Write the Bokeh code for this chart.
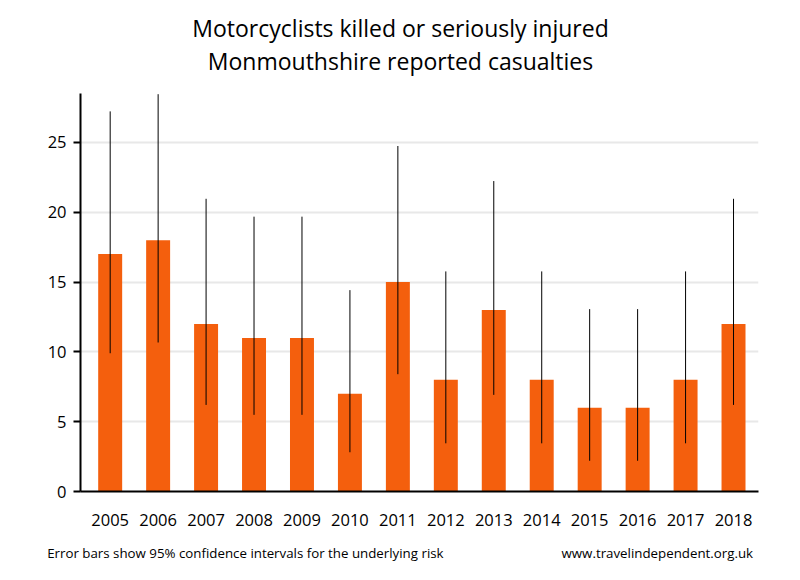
from bokeh.plotting import figure
from bokeh.models import ColumnDataSource, Range1d, FixedTicker, LinearAxis
from bokeh.embed import file_html
from bokeh.resources import INLINE

years = [2005, 2006, 2007, 2008, 2009, 2010, 2011, 2012, 2013, 2014, 2015, 2016, 2017, 2018]
casualties = [17, 18, 12, 11, 11, 7, 15, 8, 13, 8, 6, 6, 8, 12]
ci_lower = [9.90, 10.67, 6.20, 5.49, 5.49, 2.81, 8.40, 3.45, 6.92, 3.45, 2.20, 2.20, 3.45, 6.20]
ci_upper = [27.22, 28.45, 20.96, 19.68, 19.68, 14.42, 24.74, 15.76, 22.23, 15.76, 13.06, 13.06, 15.76, 20.96]
y_ticks = [0, 5, 10, 15, 20, 25]

title_1 = "Motorcyclists killed or seriously injured"
title_2 = "Monmouthshire reported casualties"
note_left = "Error bars show 95% confidence intervals for the underlying risk"
note_right = "www.travelindependent.org.uk"

FONT = "Open Sans"

src = ColumnDataSource(dict(x=years, top=casualties, lo=ci_lower, hi=ci_upper))

p = figure(width=784, height=564, output_backend="svg", toolbar_location=None,
           x_range=Range1d(2004.381, 2018.521), y_range=Range1d(0, 28.5),
           min_border_left=80, min_border_right=26, min_border_top=93, min_border_bottom=71)
p.outline_line_color = None
p.background_fill_color = "white"
p.title.visible = False

p.vbar(x="x", top="top", width=0.5, source=src, color="#F45F0D", line_color=None)
p.segment(x0="x", x1="x", y0="lo", y1="hi", source=src, line_color="black", line_width=1)

p.xgrid.grid_line_color = None
p.ygrid.grid_line_color = "#e8e8e8"
p.ygrid.grid_line_width = 2
p.ygrid.ticker = FixedTicker(ticks=y_ticks[1:])

p.xaxis.ticker = FixedTicker(ticks=years)
p.xaxis.major_tick_line_color = None
p.xaxis.minor_tick_line_color = None
p.xaxis.axis_line_color = "black"
p.xaxis.axis_line_width = 2
p.xaxis.major_label_standoff = 16
p.xaxis.major_label_text_font = FONT
p.xaxis.major_label_text_font_size = "16.5px"
p.xaxis.major_label_text_color = "black"

p.yaxis.ticker = FixedTicker(ticks=y_ticks)
p.yaxis.minor_tick_line_color = None
p.yaxis.major_tick_out = 7
p.yaxis.major_tick_in = 0
p.yaxis.major_tick_line_color = "black"
p.yaxis.major_tick_line_width = 2
p.yaxis.axis_line_color = "black"
p.yaxis.axis_line_width = 2
p.yaxis.major_label_standoff = 7
p.yaxis.major_label_text_font = FONT
p.yaxis.major_label_text_font_size = "16.5px"
p.yaxis.major_label_text_color = "black"


def text_axis(positions, texts, size, standoff, side):
    ax = LinearAxis(ticker=FixedTicker(ticks=positions),
                    major_label_overrides=dict(zip(positions, texts)))
    ax.axis_line_color = None
    ax.major_tick_line_color = None
    ax.minor_tick_line_color = None
    ax.major_label_standoff = standoff
    ax.major_label_text_font = FONT
    ax.major_label_text_font_size = size
    ax.major_label_text_color = "black"
    p.add_layout(ax, side)


# footer notes below the x axis
text_axis([2007.82, 2016.41], [note_left, note_right], "13.3px", 9, "below")
# two-line title above the frame (nearest line first)
title_x = [2011.055]
text_axis(title_x, [title_2], "23px", 11, "above")
text_axis(title_x, [title_1], "23px", -8, "above")

open("out.html", "w").write(file_html(p, INLINE))
